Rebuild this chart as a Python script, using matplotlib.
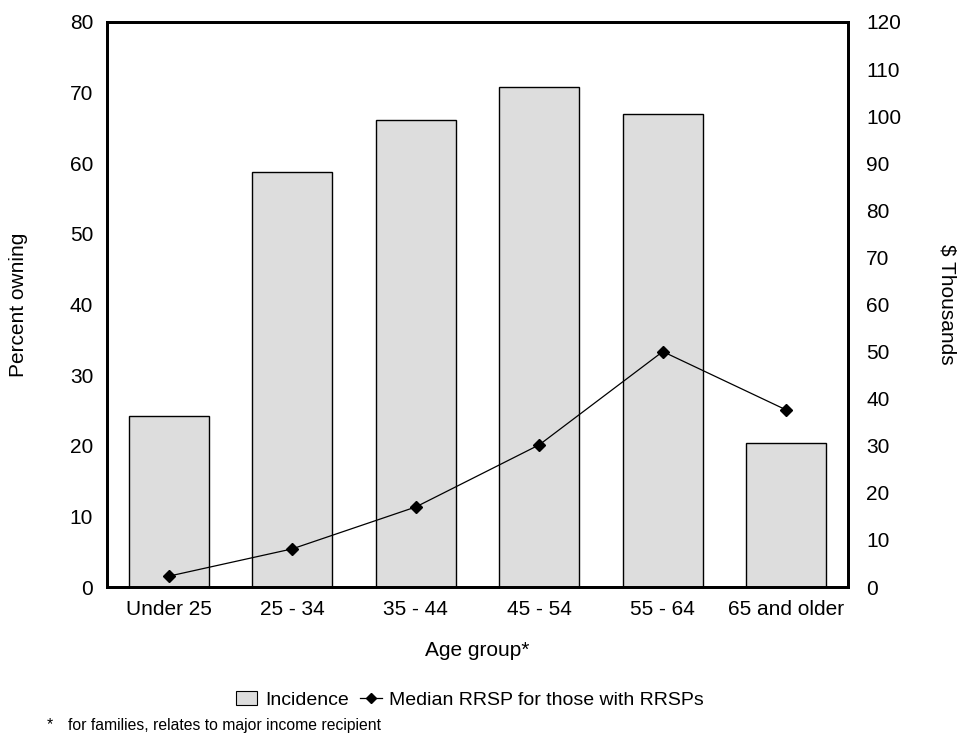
import numpy as np
import matplotlib.pyplot as plt
from matplotlib.lines import Line2D
from matplotlib.patches import Patch

plt.rcParams['font.family'] = ['Liberation Sans', 'DejaVu Sans']

categories = ["Under 25", "25 - 34", "35 - 44", "45 - 54", "55 - 64", "65 and older"]
incidence = [24.2, 58.8, 66.1, 70.8, 67.0, 20.4]      # percent owning (left axis)
median_rrsp = [2.3, 8.1, 17.0, 30.2, 50.0, 37.6]      # $ thousands (right axis)

fig = plt.figure(figsize=(9.59, 7.38), dpi=100)
ax = fig.add_axes([0.1116, 0.2046, 0.7727, 0.7656])
ax2 = ax.twinx()

x = np.arange(len(categories))
ax.bar(x, incidence, width=0.65, color='#dddddd', edgecolor='black', linewidth=1.0, zorder=2)
ax2.plot(x, median_rrsp, color='black', linewidth=0.9, marker='D', markersize=6.5, zorder=3)

ax.set_xlim(-0.5, len(categories) - 0.5)
ax.set_ylim(0, 80)
ax2.set_ylim(0, 120)
ax.set_yticks(range(0, 81, 10))
ax2.set_yticks(range(0, 121, 10))
ax.set_xticks(x)
ax.set_xticklabels(categories)

for a in (ax, ax2):
    a.tick_params(length=0, labelsize=15, pad=13)
    for s in a.spines.values():
        s.set_linewidth(2)
ax.tick_params(axis='y', pad=10)
ax.tick_params(axis='x', pad=9)

# axis titles placed in figure coords
fig.text(0.498, 0.119, "Age group*", fontsize=15, ha='center', va='center')
fig.text(0.019, 0.587, "Percent owning", fontsize=15, rotation=90, ha='center', va='center')
fig.text(0.988, 0.587, "$ Thousands", fontsize=15, rotation=270, ha='center', va='center')

handles = [Patch(facecolor='#dddddd', edgecolor='black', linewidth=0.8),
           Line2D([0], [0], color='black', linewidth=0.9, marker='D', markersize=5.5)]
fig.legend(handles, ["Incidence", "Median RRSP for those with RRSPs"],
           loc='center', bbox_to_anchor=(0.490, 0.0515), ncol=2, frameon=False,
           fontsize=14, handlelength=1.1, handletextpad=0.4, columnspacing=0.6,
           borderpad=0)

fig.text(0.049, 0.0176, "*", fontsize=11.3, va='center')
fig.text(0.071, 0.0176, "for families, relates to major income recipient", fontsize=11.3, va='center')

fig.savefig("out.png", dpi=100)
